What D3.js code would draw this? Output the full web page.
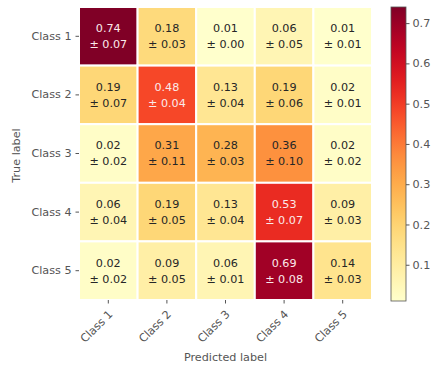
<!DOCTYPE html>
<html>
<head>
<meta charset="utf-8">
<script src="https://cdn.jsdelivr.net/npm/d3@7"></script>
<style>
  body { margin: 0; background: #fff; }
  svg text { font-family: "DejaVu Sans", sans-serif; }
</style>
</head>
<body>
<div id="chart"></div>
<script>
var classes = ['Class 1', 'Class 2', 'Class 3', 'Class 4', 'Class 5'];
var means = [
  [0.74, 0.18, 0.01, 0.06, 0.01],
  [0.19, 0.48, 0.13, 0.19, 0.02],
  [0.02, 0.31, 0.28, 0.36, 0.02],
  [0.06, 0.19, 0.13, 0.53, 0.09],
  [0.02, 0.09, 0.06, 0.69, 0.14]
];
var stds = [
  [0.07, 0.03, 0.00, 0.05, 0.01],
  [0.07, 0.04, 0.04, 0.06, 0.01],
  [0.02, 0.11, 0.03, 0.10, 0.02],
  [0.04, 0.05, 0.04, 0.07, 0.03],
  [0.02, 0.05, 0.01, 0.08, 0.03]
];
var colorTicks = [0.1, 0.2, 0.3, 0.4, 0.5, 0.6, 0.7];

var width = 433, height = 366;
var gridLeft = 79, gridTop = 7, gridSize = 293;
var labelColor = '#555';

var svg = d3.select('#chart').append('svg')
  .attr('width', width)
  .attr('height', height);

var vmin = d3.min(means, function(r) { return d3.min(r); });
var vmax = d3.max(means, function(r) { return d3.max(r); });
var color = d3.scaleSequential(d3.interpolateYlOrRd).domain([vmin, vmax]);

var x = d3.scaleBand().domain(classes).range([gridLeft, gridLeft + gridSize]);
var y = d3.scaleBand().domain(classes).range([gridTop, gridTop + gridSize]);

// flatten cells
var cells = [];
means.forEach(function(row, i) {
  row.forEach(function(v, j) {
    cells.push({row: classes[i], col: classes[j], value: v, std: stds[i][j]});
  });
});

var cell = svg.append('g').selectAll('g')
  .data(cells)
  .enter().append('g')
    .attr('transform', function(d) { return 'translate(' + x(d.col) + ',' + y(d.row) + ')'; });

cell.append('rect')
  .attr('width', x.bandwidth())
  .attr('height', y.bandwidth())
  .attr('fill', function(d) { return color(d.value); })
  .attr('stroke', '#fff')
  .attr('stroke-width', 2);

// light text on dark cells
var thresh = vmax / 2;
function textColor(d) { return d.value > thresh ? '#fbeaea' : '#262626'; }

cell.append('text')
  .attr('x', x.bandwidth() / 2)
  .attr('y', y.bandwidth() / 2 - 4)
  .attr('text-anchor', 'middle')
  .attr('font-size', 11.2)
  .attr('fill', textColor)
  .text(function(d) { return d.value.toFixed(2); });

cell.append('text')
  .attr('x', x.bandwidth() / 2)
  .attr('y', y.bandwidth() / 2 + 12)
  .attr('text-anchor', 'middle')
  .attr('font-size', 11.2)
  .attr('fill', textColor)
  .text(function(d) { return '\u00b1 ' + d.std.toFixed(2); });

// y axis
var yAxis = svg.append('g')
  .attr('transform', 'translate(' + gridLeft + ',0)')
  .call(d3.axisLeft(y).tickSize(3.5).tickPadding(4));
yAxis.select('.domain').remove();
yAxis.selectAll('line').attr('stroke', labelColor);
yAxis.selectAll('text')
  .attr('font-size', 11.2)
  .attr('fill', labelColor)
  .style('font-family', '"DejaVu Sans", sans-serif');

// x axis
var xAxis = svg.append('g')
  .attr('transform', 'translate(0,' + (gridTop + gridSize) + ')')
  .call(d3.axisBottom(x).tickSize(3.5).tickPadding(4));
xAxis.select('.domain').remove();
xAxis.selectAll('line').attr('stroke', labelColor);
xAxis.selectAll('text')
  .attr('font-size', 11.2)
  .attr('fill', labelColor)
  .style('font-family', '"DejaVu Sans", sans-serif')
  .attr('text-anchor', 'end')
  .attr('dy', null)
  .attr('y', 0)
  .attr('transform', 'translate(5,15) rotate(-45)');

// axis titles
svg.append('text')
  .attr('x', gridLeft + gridSize / 2)
  .attr('y', 361)
  .attr('text-anchor', 'middle')
  .attr('font-size', 11.2)
  .attr('fill', labelColor)
  .text('Predicted label');

svg.append('text')
  .attr('transform', 'translate(20,' + (gridTop + gridSize / 2 + 2) + ') rotate(-90)')
  .attr('text-anchor', 'middle')
  .attr('font-size', 11.2)
  .attr('fill', labelColor)
  .text('True label');

// colorbar
var cbLeft = 391, cbWidth = 15, cbTop = 7, cbBottom = 301;
var defs = svg.append('defs');
var grad = defs.append('linearGradient')
  .attr('id', 'cbgrad')
  .attr('x1', 0).attr('y1', 1).attr('x2', 0).attr('y2', 0);
d3.range(0, 1.0001, 0.05).forEach(function(t) {
  grad.append('stop')
    .attr('offset', t)
    .attr('stop-color', d3.interpolateYlOrRd(t));
});

var cbScale = d3.scaleLinear().domain([vmin, vmax]).range([cbBottom, cbTop]);

svg.append('rect')
  .attr('x', cbLeft)
  .attr('y', cbTop)
  .attr('width', cbWidth)
  .attr('height', cbBottom - cbTop)
  .attr('fill', 'url(#cbgrad)')
  .attr('stroke', labelColor)
  .attr('stroke-width', 0.8);

var cbAxis = svg.append('g')
  .attr('transform', 'translate(' + (cbLeft + cbWidth) + ',0)')
  .call(d3.axisRight(cbScale).tickValues(colorTicks).tickSize(3.5).tickPadding(3).tickFormat(d3.format('.1f')));
cbAxis.select('.domain').remove();
cbAxis.selectAll('line').attr('stroke', labelColor);
cbAxis.selectAll('text')
  .attr('font-size', 11.2)
  .attr('fill', labelColor)
  .style('font-family', '"DejaVu Sans", sans-serif');
</script>
</body>
</html>
